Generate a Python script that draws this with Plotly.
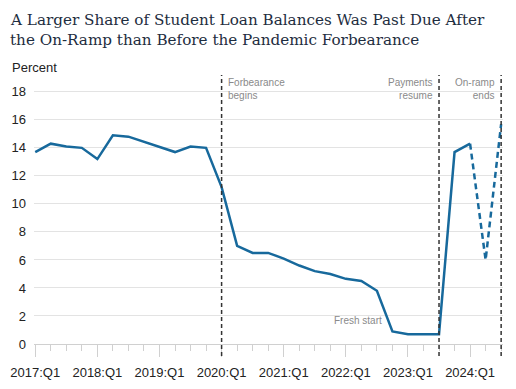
import plotly.graph_objects as go

quarters = ["2017:Q1","2017:Q2","2017:Q3","2017:Q4",
            "2018:Q1","2018:Q2","2018:Q3","2018:Q4",
            "2019:Q1","2019:Q2","2019:Q3","2019:Q4",
            "2020:Q1","2020:Q2","2020:Q3","2020:Q4",
            "2021:Q1","2021:Q2","2021:Q3","2021:Q4",
            "2022:Q1","2022:Q2","2022:Q3","2022:Q4",
            "2023:Q1","2023:Q2","2023:Q3","2023:Q4",
            "2024:Q1","2024:Q2","2024:Q3"]
values = [13.7, 14.3, 14.1, 14.0,
          13.2, 14.9, 14.8, 14.45,
          14.1, 13.7, 14.1, 14.0,
          11.2, 7.0, 6.5, 6.5,
          6.1, 5.6, 5.2, 5.0,
          4.65, 4.5, 3.8, 0.9,
          0.7, 0.7, 0.7, 13.7,
          14.3, 6.0, 15.7]
solid_until = "2024:Q1"  # solid line through this quarter, dashed afterwards
tick_labels = ["2017:Q1","2018:Q1","2019:Q1","2020:Q1","2021:Q1","2022:Q1","2023:Q1","2024:Q1"]
event_quarters = ["2020:Q1", "2023:Q3", "2024:Q3"]
event_labels = ["Forbearance<br>begins", "Payments<br>resume", "On-ramp<br>ends"]
y_ticks = [0, 2, 4, 6, 8, 10, 12, 14, 16, 18]
title_lines = ["A Larger Share of Student Loan Balances Was Past Due After",
               "the On-Ramp than Before the Pandemic Forbearance"]

def qpos(q):
    y, qq = q.split(":Q")
    return int(y) + (int(qq) - 1) / 4.0

xs = [qpos(q) for q in quarters]
k = quarters.index(solid_until)

BLUE = "#17699c"
GRAY_TXT = "#8a8a8a"

fig = go.Figure()
fig.add_trace(go.Scatter(x=xs[:k + 1], y=values[:k + 1], mode="lines",
                         line=dict(color=BLUE, width=2.5), hoverinfo="skip"))
fig.add_trace(go.Scatter(x=xs[k:], y=values[k:], mode="lines",
                         line=dict(color=BLUE, width=2.5, dash="6px,4px"), hoverinfo="skip"))

for q in event_quarters:
    fig.add_shape(type="line", xref="x", yref="paper", x0=qpos(q), x1=qpos(q),
                  y0=-0.045, y1=1.0, line=dict(color="#333333", width=1.5, dash="4px,3px"), layer="above")

fig.add_annotation(x=qpos(event_quarters[0]), y=1.0, xref="x", yref="paper",
                   text=event_labels[0], showarrow=False, xanchor="left", yanchor="top",
                   align="left", xshift=4, font=dict(size=10, color=GRAY_TXT, family="Liberation Sans"))
for i in (1, 2):
    fig.add_annotation(x=qpos(event_quarters[i]), y=1.0, xref="x", yref="paper",
                       text=event_labels[i], showarrow=False, xanchor="right", yanchor="top",
                       align="right", xshift=-4, font=dict(size=10, color=GRAY_TXT, family="Liberation Sans"))

fig.add_annotation(x=qpos("2022:Q4"), y=1.65, xref="x", yref="y", text="Fresh start",
                   showarrow=False, xanchor="right", yanchor="middle", xshift=-8,
                   font=dict(size=10, color=GRAY_TXT, family="Liberation Sans"))

fig.add_annotation(x=0, y=1.0, xref="paper", yref="paper", text="Percent", showarrow=False,
                   xanchor="left", yanchor="bottom", xshift=-24, yshift=-2,
                   font=dict(size=13, color="#222222", family="Liberation Sans"))

for i, line in enumerate(title_lines):
    fig.add_annotation(x=0, y=1.0, xref="paper", yref="paper", text=line, showarrow=False,
                       xanchor="left", yanchor="middle", align="left", xshift=-26,
                       yshift=55 - 20 * i,
                       font=dict(family="DejaVu Serif", size=15.2, color="#1e2d40"))

fig.update_layout(
    width=516, height=389,
    margin=dict(l=34, r=13, t=75, b=45, autoexpand=False),
    paper_bgcolor="white", plot_bgcolor="white",
    showlegend=False,
    xaxis=dict(range=[2016.98, 2024.53], tickvals=[qpos(t) for t in tick_labels], ticktext=tick_labels,
               showgrid=False, zeroline=False, showline=False, automargin=False,
               ticks="outside", ticklen=12, tickcolor="#d0d0d0", tickwidth=1, ticklabelstandoff=4,
               minor=dict(dtick=0.25, tick0=2017, ticks="outside", ticklen=6, tickcolor="#d0d0d0", showgrid=False),
               tickfont=dict(family="Liberation Sans", size=13, color="#222222")),
    yaxis=dict(range=[0, 19.2], tickvals=y_ticks, showgrid=True, gridcolor="#e3e3e3", gridwidth=1,
               zeroline=True, zerolinecolor="#d0d0d0", zerolinewidth=1, automargin=False,
               ticks="", ticklabelstandoff=7,
               tickfont=dict(family="Liberation Sans", size=13, color="#222222")),
)

fig.write_html("out.html", config={"displayModeBar": False},
               post_script="document.body.style.margin='0';")
